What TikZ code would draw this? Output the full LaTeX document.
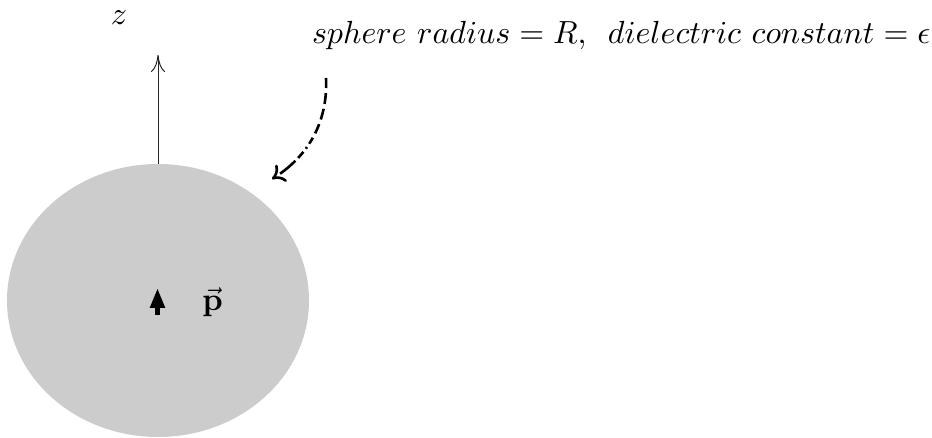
\documentclass[tikz,border=0pt]{standalone}
\usepackage{amsmath}
\usetikzlibrary{arrows.meta}
\begin{document}
\begin{tikzpicture}[x=1pt,y=-1pt,
  bigfont/.style={scale=3.2, inner sep=0pt},
  axisline/.style={draw=black!85, line width=1pt, -{To[length=17pt,width=14pt]}},
  curvearrow/.style={line width=2.6pt, dash pattern=on 10pt off 5pt on 11pt off 5pt on 11pt off 5pt on 10pt off 5pt on 7pt off 4pt on 2pt off 4pt on 8pt off 4pt on 20pt, -{To[length=12pt,width=20pt]}},
  dipole/.style={line width=5pt, -{Triangle[length=20pt,width=14pt]}}]
\useasboundingbox (0,0) rectangle (932,438);
\fill[black!20] (158,300.5) ellipse [x radius=151, y radius=136.5];
\coordinate (top) at (158,164);
\coordinate (ztip) at (158,55);
\draw[axisline] (top) -- (ztip);
\node[bigfont, anchor=base] (z) at (119,25) {$z$};
\node[bigfont, anchor=base east] (label) at (931,44) {$sphere\ radius = R,\hspace{5pt} dielectric\ constant = \epsilon$};
\coordinate (cs) at (326,78);
\coordinate (ce) at (272,179);
\draw[curvearrow] (cs) .. controls (328,120) and (310,155) .. (ce);
\coordinate (ds) at (157.5,315);
\coordinate (de) at (157.5,288);
\draw[dipole] (ds) -- (de);
\node[bigfont, anchor=base] (p) at (212.5,311) {$\vec{\mathbf{p}}$};
\end{tikzpicture}
\end{document}
